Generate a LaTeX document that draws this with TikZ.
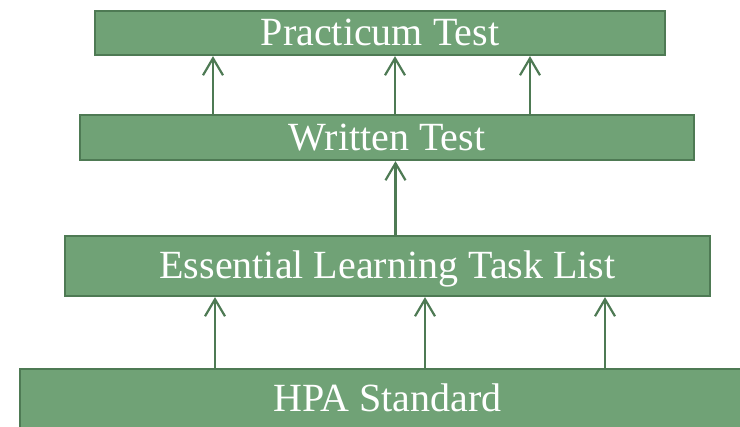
\documentclass[tikz,border=0pt]{standalone}
\usepackage{fontspec}
\setmainfont{Liberation Serif}
\usepackage{tikz}
\usetikzlibrary{arrows.meta}

\definecolor{barfill}{RGB}{112,162,118}
\definecolor{barline}{RGB}{78,122,84}

\begin{document}
\begin{tikzpicture}[
		bar/.style={rectangle,draw=barline,fill=barfill,line width=2.2pt,
		text=white,inner sep=0pt,text height=26pt,text depth=0pt,
		font=\fontsize{40}{42}\selectfont},
		up/.style={draw=barline,line width=2.2pt,
		-{Straight Barb[length=17pt,width=20pt,line width=2.2pt]}}
		]
		\useasboundingbox (0pt,0pt) rectangle (740pt,-427pt);

		\node[bar, minimum width=570pt, minimum height=44pt] (P) at (380pt,-33pt) {Practicum Test};
		\node[bar, minimum width=614pt, minimum height=45pt, below of = P,
		node distance=104.5pt, xshift = 7pt] (W) {Written Test};
		\node[bar, minimum width=645pt, minimum height=60pt, below of = W,
		node distance=128.5pt, xshift = 0.5pt] (E) {Essential Learning Task List};
		\node[bar, minimum width=735pt, minimum height=60pt, below of = E,
		node distance=133pt] (H) {HPA Standard};

		\draw[up] ([xshift=-174pt]W.north) -- ([xshift=-174pt]W.north |- P.south);
		\draw[up] ([xshift=8pt]W.north) -- ([xshift=8pt]W.north |- P.south);
		\draw[up] ([xshift=143pt]W.north) -- ([xshift=143pt]W.north |- P.south);
		\draw[up] ([xshift=8pt]E.north) -- ([xshift=8pt]E.north |- W.south);
		\draw[up] ([xshift=-172.5pt]H.north) -- ([xshift=-172.5pt]H.north |- E.south);
		\draw[up] ([xshift=37.5pt]H.north) -- ([xshift=37.5pt]H.north |- E.south);
		\draw[up] ([xshift=217.5pt]H.north) -- ([xshift=217.5pt]H.north |- E.south);
	\end{tikzpicture}
\end{document}
